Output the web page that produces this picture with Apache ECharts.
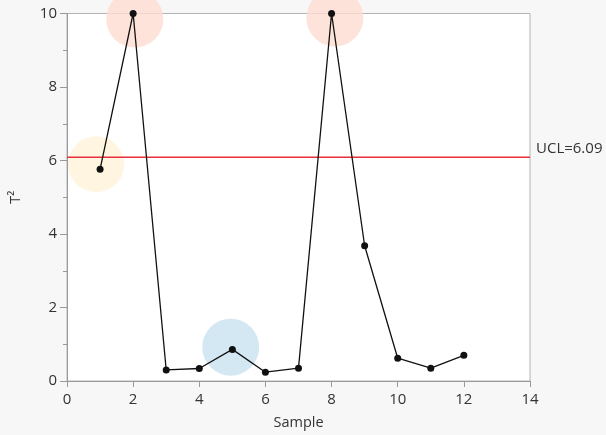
<!DOCTYPE html>
<html><head><meta charset="utf-8">
<script src="https://cdn.jsdelivr.net/npm/echarts@6/dist/echarts.min.js"></script>
<style>html,body{margin:0;padding:0;background:#f7f7f7}#c{width:606px;height:435px}</style>
</head><body><div id="c"></div>
<script>
const samples = [1,2,3,4,5,6,7,8,9,10,11,12];
const t2 = [5.76,10,0.30,0.34,0.86,0.24,0.35,10,3.68,0.62,0.35,0.70];
const ucl = 6.09;
const xTicks = [0,2,4,6,8,10,12,14];
const yTicks = [0,2,4,6,8,10];
const highlightWarm = [[2.05,9.85],[8.1,9.88]];
const highlightYellow = [[0.88,5.9]];
const highlightBlue = [[4.95,0.92]];

const font = 'Segoe UI, "Open Sans", "Noto Sans", sans-serif';
const xMin = xTicks[0], xMax = xTicks[xTicks.length-1];
const chart = echarts.init(document.getElementById('c'));
chart.setOption({
  animation:false,
  backgroundColor:'#f7f7f7',
  grid:{left:65,top:13.5,right:76,bottom:52.5,show:true,backgroundColor:'#ffffff',borderColor:'#b4b4b4',borderWidth:1},
  xAxis:{type:'value',min:xMin,max:xMax,interval:2,
    name:'Sample',nameLocation:'middle',nameGap:34,
    nameTextStyle:{color:'#333',fontSize:14.5,fontFamily:font},
    axisLine:{lineStyle:{color:'#9a9a9a'}},
    axisTick:{length:6,lineStyle:{color:'#9a9a9a'}},
    axisLabel:{color:'#333',fontSize:15,fontFamily:font,margin:11},
    splitLine:{show:false}},
  yAxis:{type:'value',min:yTicks[0],max:yTicks[yTicks.length-1],interval:2,
    name:'T²',nameLocation:'middle',nameGap:44,
    nameTextStyle:{color:'#333',fontSize:14.5,fontFamily:font},
    axisLine:{show:true,lineStyle:{color:'#9a9a9a'}},
    axisTick:{show:true,length:7,lineStyle:{color:'#9a9a9a'}},
    minorTick:{show:true,splitNumber:2,length:4,lineStyle:{color:'#9a9a9a'}},
    axisLabel:{color:'#333',fontSize:15,fontFamily:font,margin:10},
    splitLine:{show:false}},
  series:[
    {type:'scatter',data:highlightWarm,symbolSize:57,silent:true,z:1,clip:false,
      itemStyle:{color:'#fcdccf'}},
    {type:'scatter',data:highlightYellow,symbolSize:56,silent:true,z:1,clip:false,
      itemStyle:{color:'#fff3da'}},
    {type:'scatter',data:highlightBlue,symbolSize:57,silent:true,z:1,clip:false,
      itemStyle:{color:'#c9e2f0'}},
    {type:'line',data:[[xMin,ucl],[xMax,ucl]],z:3,symbol:'none',silent:true,clip:false,
      color:'#e8303c',
      lineStyle:{color:'#e8303c',width:1.5},
      endLabel:{show:true,formatter:'UCL='+ucl,color:'#333',fontSize:15,fontFamily:font,distance:6,offset:[0,-8]}},
    {type:'line',data:samples.map((s,i)=>[s,t2[i]]),z:5,
      symbol:'circle',symbolSize:7,
      lineStyle:{color:'#111',width:1.3},itemStyle:{color:'#111'}}
  ]
});
</script></body></html>
